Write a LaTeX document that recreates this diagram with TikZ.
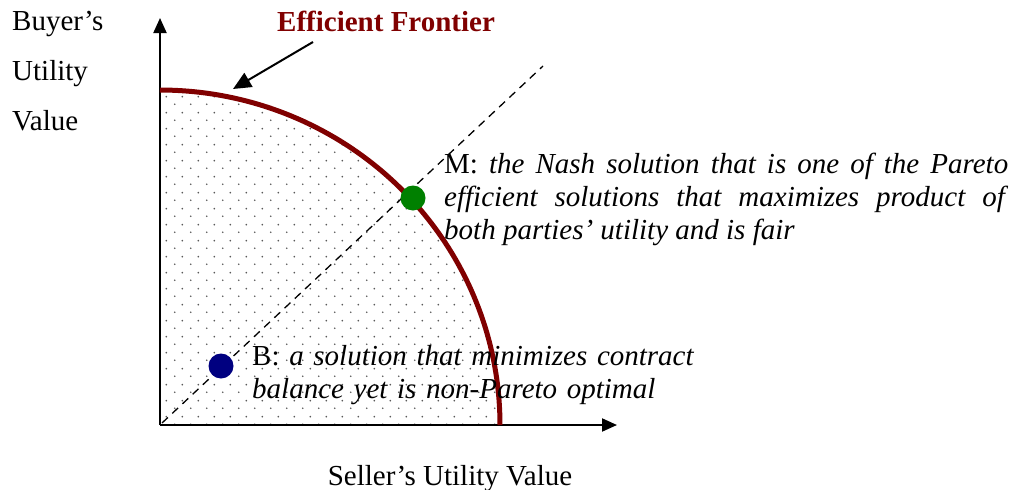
\documentclass[tikz,border=0pt]{standalone}
\usepackage{fontspec}
\setmainfont{Liberation Serif}
\usetikzlibrary{arrows.meta,patterns,positioning}

\definecolor{frontierred}{RGB}{128,0,0}
\definecolor{nashgreen}{RGB}{0,128,0}
\definecolor{balancenavy}{RGB}{0,0,128}

% staggered grey dots for the feasible region
\pgfdeclarepatternformonly{sparsedots}{\pgfpointorigin}{\pgfpoint{15.5pt}{15.5pt}}{\pgfpoint{15.5pt}{15.5pt}}{%
  \pgfpathcircle{\pgfpoint{3.875pt}{3.875pt}}{1pt}%
  \pgfpathcircle{\pgfpoint{11.625pt}{11.625pt}}{1pt}%
  \pgfusepath{fill}}

\tikzset{
  txt/.style={font=\fontsize{29}{33}\selectfont, inner sep=0pt},
  axis/.style={line width=2pt, -{Triangle[length=15pt,width=13pt]}},
  pointer/.style={line width=2pt, -{Triangle[length=18pt,width=16pt]}},
  frontier/.style={line width=5pt, draw=frontierred},
  diagline/.style={line width=1.3pt, dash pattern=on 8pt off 6pt},
  solution/.style={circle, minimum size=25pt, inner sep=0pt},
}

\begin{document}
\begin{tikzpicture}[x=1pt, y=-1pt]
  \useasboundingbox (0,0) rectangle (1015,490);

  \coordinate (O) at (160,425);
  \coordinate (ytip) at (160,18);
  \coordinate (xtip) at (617,425);
  \coordinate (dstart) at (162,423); % helper
  \coordinate (dend) at (543,66);    % helper

  % feasible region
  \fill[pattern=sparsedots, pattern color=black!65]
    (O) -- plot[domain=0:90, samples=80] ({160+340*cos(\x)},{425-335*sin(\x)}) -- cycle;

  \draw[diagline] (dstart) -- (dend);
  \draw[axis] (O) -- (ytip);
  \draw[axis] (O) -- (xtip);

  % efficient frontier
  \draw[frontier] plot[domain=0:90, samples=80] ({160+340*cos(\x)},{425-335*sin(\x)});

  \node[solution, fill=nashgreen] (M) at (413,198) {};
  \node[solution, fill=balancenavy] (B) at (221,366) {};

  % axis labels
  \node[txt, anchor=base west] (buyer) at (12,30) {Buyer’s};
  \node[txt, below=50pt of buyer.base west, anchor=base west] (utility) {Utility};
  \node[txt, below=50pt of utility.base west, anchor=base west] (value) {Value};
  \node[txt, anchor=base] (seller) at (450,485) {Seller’s Utility Value};

  \node[txt, font=\fontsize{29}{33}\selectfont\bfseries, text=frontierred, anchor=base west]
    (frontierlbl) at (277,31) {Efficient Frontier};
  \coordinate (ftail) at (313,42);
  \coordinate (ftip) at (233,89);
  \draw[pointer] (ftail) -- (ftip);

  \node[txt, anchor=base west, text width=564pt, align=justify] (Mtext) at (444,173)
    {M: \textit{the Nash solution that is one of the Pareto}\linebreak
     \textit{efficient solutions that maximizes product of}\linebreak
     \textit{both parties’ utility and is fair}};
  \node[txt, anchor=base west, text width=460pt, align=left] (Btext) at (252,365)
    {B: \textit{a solution that minimizes contract}\\
     \textit{balance yet is non-Pareto optimal}};
\end{tikzpicture}
\end{document}
